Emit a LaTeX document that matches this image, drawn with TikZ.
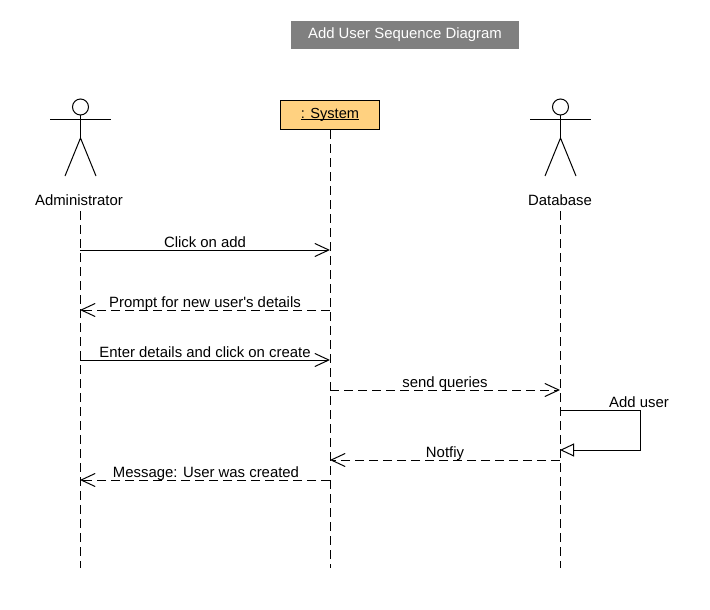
\documentclass[tikz,border=0pt]{standalone}
\usepackage{fontspec}
\setmainfont{Liberation Sans}
\usetikzlibrary{arrows.meta}
\tikzset{
  lbl/.style={inner sep=0pt,font=\fontsize{14.9}{16}\selectfont,text=black,anchor=base},
  lifeline/.style={draw=black,line width=1pt,dash pattern=on 9pt off 5pt},
  msg/.style={draw=black,line width=1pt,-{Straight Barb[length=14pt,width=14pt,line width=1pt,angle'=50]}},
  reply/.style={msg,dash pattern=on 9pt off 5pt},
  actorline/.style={draw=black,line width=1pt},
}
\newcommand{\stickman}[2]{%
  \draw[actorline] (#1,#2) circle (8);
  \draw[actorline] (#1,#2+8) -- (#1,#2+31);
  \draw[actorline] (#1-30.5,#2+12) -- (#1+30.5,#2+12);
  \draw[actorline] (#1-15.5,#2+69) -- (#1,#2+31) -- (#1+15.5,#2+69);
}
\begin{document}
\begin{tikzpicture}[x=1pt,y=-1pt]
\useasboundingbox (0,0) rectangle (710,610);
\fill[white] (0,0) rectangle (710,610);
\node[minimum width=228pt,minimum height=28pt,inner sep=0pt,fill=black!50,text=white,font=\fontsize{14.9}{16}\selectfont] (title) at (405,35) {Add User Sequence Diagram};
% actors
\stickman{80.5}{107}
\stickman{560.5}{107}
\node[lbl] (admin) at (79,205) {Administrator};
\node[lbl] (dbl) at (560,205) {Database};
\node[draw=black,line width=1pt,minimum width=99pt,minimum height=29.5pt,inner sep=0pt,text height=10pt,text depth=4pt,font=\fontsize{14.6}{16}\selectfont,fill={rgb,255:red,255;green,209;blue,128}] (sys) at (330,115) {\underline{\raisebox{0pt}[\height][0pt]{: System}}};
% lifeline ends
\coordinate (a0) at (80,211);
\coordinate (a1) at (80,568);
\coordinate (s0) at (330,130);
\coordinate (s1) at (330,568);
\coordinate (d0) at (560,211);
\coordinate (d1) at (560,568);
\draw[lifeline] (a0) -- (a1);
\draw[lifeline] (s0) -- (s1);
\draw[lifeline] (d0) -- (d1);
% messages
\draw[msg] (80,250) -- (330,250);
\node[lbl] at (205,247) {Click on add};
\draw[reply] (330,310) -- (80,310);
\node[lbl] at (205,307.5) {Prompt for new user\textquotesingle s details};
\draw[msg] (80,360) -- (330,360);
\node[lbl] at (205,357.5) {Enter details and click on create};
\draw[reply] (330,390) -- (560,390);
\node[lbl] at (445,387) {send queries};
\draw[draw=black,line width=1pt,-{Triangle[open,length=14pt,width=13pt,line width=1pt]}] (560,410) -- (640,410) -- (640,450) -- (560,450);
\node[lbl] at (639,407) {Add user};
\draw[reply] (560,460) -- (330,460);
\node[lbl] at (445,457) {Notfiy};
\draw[reply] (330,480) -- (80,480);
\node[lbl] at (206,477) {Message: User was created};
\end{tikzpicture}
\end{document}
